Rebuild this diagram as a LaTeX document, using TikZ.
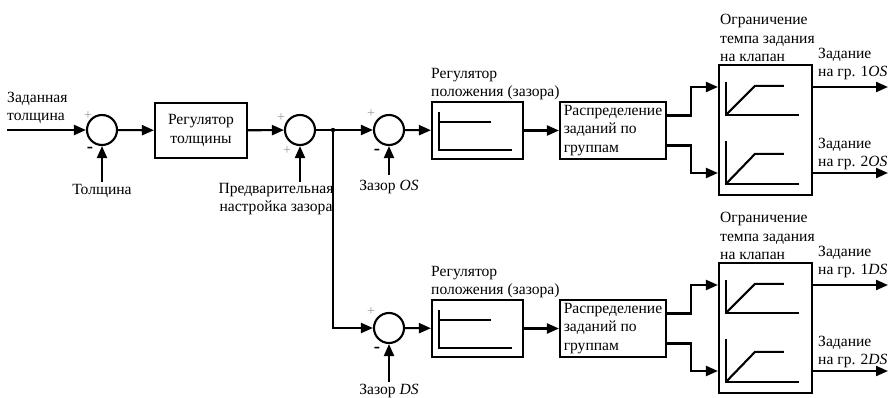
\documentclass[tikz,border=0pt]{standalone}
\usepackage{fontspec}
\setmainfont{Liberation Serif}
\usetikzlibrary{arrows.meta,calc}

\tikzset{
  arr/.style={line width=1.8pt, -{Triangle[length=3.6mm, width=3mm]}},
  wire/.style={line width=1.8pt},
  graph/.style={line width=1.8pt},
  sumnode/.style={circle, draw, line width=1.8pt, minimum size=0.9cm, inner sep=0pt},
  blk/.style={rectangle, draw, line width=1.8pt, align=left, inner sep=0pt},
  lbl/.style={align=left, inner sep=0pt, anchor=west},
  plus/.style={text=gray!80, font=\fontsize{12}{12}\selectfont},
  minus/.style={font=\fontsize{16}{16}\selectfont\bfseries}
}

\begin{document}
\begin{tikzpicture}[x=0.03cm, y=-0.03cm, font=\fontsize{13.3}{15.5}\selectfont]
  \useasboundingbox (0,0) rectangle (890,398);

  % Thickness loop
  \coordinate (in) at (7,130);
  \node[lbl] at (7,108) {Заданная\\толщина};
  \node[sumnode] (sumA) at (102,130) {};
  \node[plus] at (88,116) {+};
  \node[minus] at (90,150) {-};
  \coordinate (thk) at (102,182);
  \node at (102,191) {Толщина};
  \node[blk, align=center, minimum width=2.76cm, minimum height=1.65cm] (regT) at (201,130.5) {Регулятор\\толщины};

  % Preset of the gap
  \node[sumnode] (sumB) at (300,130) {};
  \node[plus] at (281,118) {+};
  \node[plus] at (287,151) {+};
  \coordinate (pre) at (300,182);
  \node[align=center, inner sep=0pt] at (276,199) {Предварительная\\настройка зазора};
  \coordinate (j) at (333,130);

  \draw[arr] (in) -- (sumA);
  \draw[arr] (thk) -- (sumA);
  \draw[arr] (sumA) -- (regT);
  \draw[arr] (regT) -- (sumB);
  \draw[arr] (pre) -- (sumB);
  \draw[wire] (sumB) -- (j);
  \fill (j) circle (2.2);

  % Two identical branches: OS and DS
  \foreach \n/\dy/\ay/\ty in {OS/0/175/187, DS/198/382/391} {
    \node[sumnode] (sum\n) at (389,130+\dy) {};
    \node[plus] at (371,114+\dy) {+};
    \node[minus] at (377,152+\dy) {-};
    \coordinate (gap\n) at (389,\ay);
    \node at (389,\ty) {Зазор \textit{\n}};

    \node[blk, minimum width=2.73cm, minimum height=1.71cm] (reg\n) at (477.5,130.5+\dy) {};
    \node[lbl] at (431,84+\dy) {Регулятор\\положения (зазора)};
    \draw[graph] ($(reg\n.north west)+(8,11)$) -- ++(0,38) -- ++(73,0);
    \draw[graph] ($(reg\n.north west)+(8,21)$) -- ++(52,0);

    \node[blk, minimum width=3.18cm, minimum height=1.71cm] (dist\n) at (613,130.5+\dy) {Распределение\\заданий по\\группам};

    \node[blk, minimum width=2.79cm, minimum height=3.9cm] (lim\n) at (765.5,130+\dy) {};
    \node[lbl] at (720,38+\dy) {Ограничение\\темпа задания\\на клапан};
    \draw[graph] ($(lim\n.north west)+(8,18)$) -- ++(0,33) -- ++(73,0);
    \draw[graph] ($(lim\n.north west)+(8,51)$) -- ++(29,-29) -- ++(29,0);
    \draw[graph] ($(lim\n.north west)+(8,77)$) -- ++(0,43) -- ++(73,0);
    \draw[graph] ($(lim\n.north west)+(8,120)$) -- ++(29,-30) -- ++(29,0);

    \coordinate (outA\n) at (888,87+\dy);
    \coordinate (outB\n) at (888,173+\dy);
    \node[lbl] at (818,64+\dy) {Задание\\на гр. 1\textit{\n}};
    \node[lbl] at (818,154+\dy) {Задание\\на гр. 2\textit{\n}};

    \draw[arr] (gap\n) -- (sum\n);
    \draw[arr] (sum\n) -- (reg\n);
    \draw[arr] (reg\n) -- (dist\n);
    \draw[arr] ($(dist\n.east)+(0,-15)$) -- ++(24,0) |- ($(lim\n.west)+(0,-43)$);
    \draw[arr] ($(dist\n.east)+(0,15)$) -- ++(24,0) |- ($(lim\n.west)+(0,43)$);
    \draw[arr] ($(lim\n.east)+(0,-43)$) -- (outA\n);
    \draw[arr] ($(lim\n.east)+(0,43)$) -- (outB\n);
  }

  \draw[arr] (j) -- (sumOS);
  \draw[arr] (j) |- (sumDS);

\end{tikzpicture}
\end{document}
